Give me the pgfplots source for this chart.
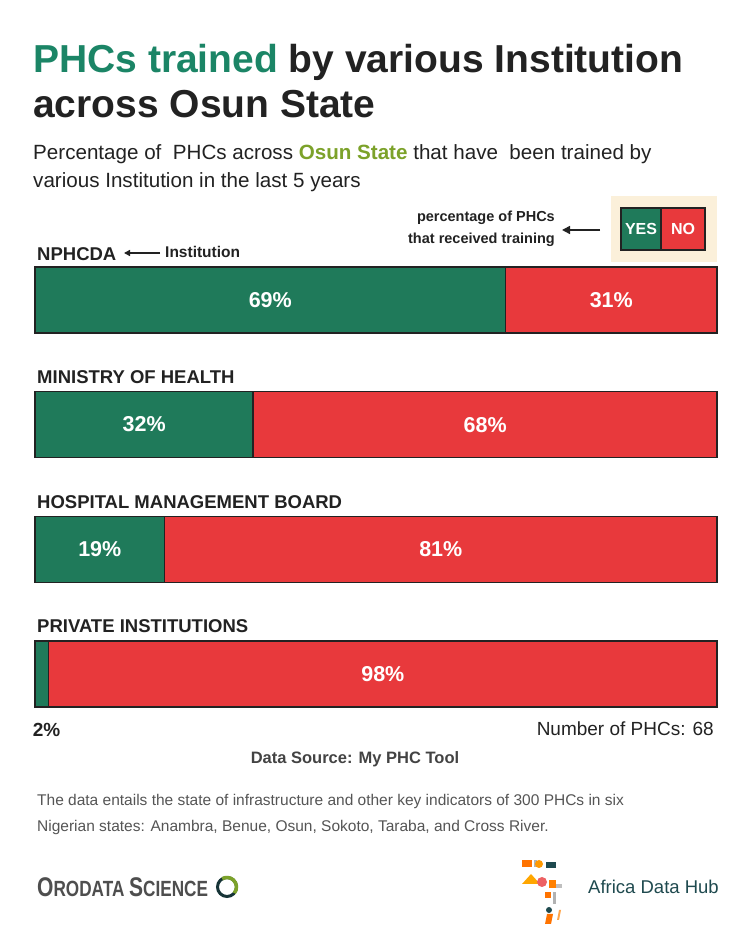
\documentclass[border=0pt]{standalone}
\usepackage{pgfplots}
\pgfplotsset{compat=1.18}
\usepackage{fontspec}
\setmainfont{Liberation Sans}
\usetikzlibrary{arrows.meta}

\definecolor{titlegreen}{HTML}{1B8566}
\definecolor{bargreen}{HTML}{1F7A5A}
\definecolor{barred}{HTML}{E8393C}
\definecolor{olive}{HTML}{7CA22A}
\definecolor{ink}{HTML}{222222}
\definecolor{legbg}{HTML}{FBF0DA}
\definecolor{greytext}{HTML}{555555}
\definecolor{adhteal}{HTML}{1F4A4F}

% shares (%), top to bottom: NPHCDA, Ministry of Health, HMB, Private
\pgfplotstableread{
y yes no
3 69 31
2 32 68
1 19 81
0  2 98
}\trained

\begin{document}
\begin{tikzpicture}[x=1pt,y=1pt]
\fill[white] (0,0) rectangle (750,950);

% title and subtitle
\node[anchor=base west,inner sep=0,font=\fontsize{39}{44}\selectfont\bfseries,text=ink]
  at (33,877) {\textcolor{titlegreen}{PHCs trained} by various Institution};
\node[anchor=base west,inner sep=0,font=\fontsize{39}{44}\selectfont\bfseries,text=ink]
  at (33,832) {across Osun State};
\node[anchor=base west,inner sep=0,font=\fontsize{20.6}{24}\selectfont,text=ink]
  at (33,790) {Percentage of\ \ PHCs across \textbf{\textcolor{olive}{Osun State}} that have\ \ been trained by};
\node[anchor=base west,inner sep=0,font=\fontsize{20.6}{24}\selectfont,text=ink]
  at (33,762) {various Institution in the last 5 years};

% legend
\fill[legbg] (611,688) rectangle (717,754);
\fill[bargreen] (621,700) rectangle (661,742);
\fill[barred] (661,700) rectangle (705,742);
\draw[ink,line width=1.5pt] (621,700) rectangle (705,742) (661,700) -- (661,742);
\node[font=\fontsize{16}{18}\selectfont\bfseries,text=white] at (641,721) {YES};
\node[font=\fontsize{16}{18}\selectfont\bfseries,text=white] at (683,721) {NO};
\draw[ink,line width=1.6pt,-{Triangle[length=8pt,width=8pt]}] (600,720) -- (562,720);
\node[anchor=base east,inner sep=0,font=\fontsize{14.5}{17}\selectfont\bfseries,text=ink] at (555,728) {percentage of PHCs};
\node[anchor=base east,inner sep=0,font=\fontsize{14.5}{17}\selectfont\bfseries,text=ink] at (555,706) {that received training};

% category labels
\begin{scope}[every node/.style={anchor=base west,inner sep=0,font=\fontsize{18.5}{22}\selectfont\bfseries,text=ink}]
\node at (37,689) {NPHCDA};
\node at (37,566) {MINISTRY OF HEALTH};
\node at (37,441) {HOSPITAL MANAGEMENT BOARD};
\node at (37,317) {PRIVATE INSTITUTIONS};
\end{scope}
\draw[ink,line width=1.4pt,-{Triangle[length=6pt,width=6pt]}] (160,697) -- (124,697);
\node[anchor=base west,inner sep=0,font=\fontsize{15.5}{18}\selectfont\bfseries,text=ink] at (165,692) {Institution};

% bars
\begin{axis}[at={(35pt,213.7pt)},anchor=south west,scale only axis,
  width=682pt,height=498.7pt,xmin=0,xmax=100,ymin=-0.5,ymax=3.5,
  hide axis,xbar stacked,bar width=66pt,clip=false]
\addplot[fill=bargreen,draw=ink,line width=1.5pt] table[x=yes,y=y] {\trained};
\addplot[fill=barred,draw=ink,line width=1.5pt] table[x=no,y=y] {\trained};
\end{axis}

% value labels centred in each segment
\begin{axis}[at={(35pt,213.7pt)},anchor=south west,scale only axis,
  width=682pt,height=498.7pt,xmin=0,xmax=100,ymin=-0.5,ymax=3.5,
  hide axis,clip=false,
  nodes near coords,point meta=explicit symbolic,
  nodes near coords style={anchor=center,font=\fontsize{21.5}{24}\selectfont\bfseries,text=white}]
\addplot[draw=none,mark=none] coordinates {
  (34.5,3) [69\%] (84.5,3) [31\%]
  (16,2) [32\%] (66,2) [68\%]
  (9.5,1) [19\%] (59.5,1) [81\%]
  (51,0) [98\%]};
\addplot[draw=none,mark=none,nodes near coords style={text=ink,font=\fontsize{19}{22}\selectfont\bfseries}]
  coordinates {(1.7,-0.45) [2\%]};
\end{axis}

% footer
\node[anchor=base east,inner sep=0,font=\fontsize{19}{22}\selectfont,text=ink] at (714,214) {Number of PHCs: 68};
\node[anchor=base,inner sep=0,font=\fontsize{16.5}{20}\selectfont\bfseries,text=ink!85] at (355,186) {Data Source: My PHC Tool};
\node[anchor=base west,inner sep=0,font=\fontsize{15.5}{19}\selectfont,text=greytext] at (37,144)
  {The data entails the state of infrastructure and other key indicators of 300 PHCs in six};
\node[anchor=base west,inner sep=0,font=\fontsize{15.5}{19}\selectfont,text=greytext] at (37,118)
  {Nigerian states: Anambra, Benue, Osun, Sokoto, Taraba, and Cross River.};

% logos
\node[anchor=base west,inner sep=0,font=\fontsize{27}{30}\selectfont\bfseries,text=ink!80,xscale=0.78] at (37,53)
  {O\fontsize{22}{24}\selectfont RODATA \fontsize{27}{30}\selectfont S\fontsize{22}{24}\selectfont CIENCE};
\draw[adhteal!70!black,line width=3pt] (227,63) circle (9.5);
\draw[olive,line width=3.5pt] (227,63) ++(-40:9.5) arc (-40:120:9.5);
\begin{scope}
\fill[orange!90!red] (522,83) rectangle (532,90);
\fill[gray!60] (534,83) rectangle (537,90);
\fill[orange!80!yellow] (539,86) circle (4);
\fill[adhteal] (546,82) rectangle (556,88);
\fill[orange!70!yellow] (522,66) -- (540,66) -- (531,76) -- cycle;
\fill[barred!80] (542,68) circle (5);
\fill[orange] (549,62) rectangle (556,70);
\fill[gray!50] (556,62) rectangle (562,66);
\fill[orange!90!red] (545,52) rectangle (551,58);
\fill[gray!60] (553,46) rectangle (556,58);
\fill[adhteal] (549,40) circle (3);
\fill[orange!90!red] (545,26) -- (551,26) -- (553,36) -- (547,36) -- cycle;
\fill[orange!70] (557,30) -- (559,40) -- (561,40) -- (559,30) -- cycle;
\end{scope}
\node[anchor=base west,inner sep=0,font=\fontsize{18.5}{22}\selectfont,text=adhteal] at (588,56) {Africa Data Hub};
\end{tikzpicture}
\end{document}
